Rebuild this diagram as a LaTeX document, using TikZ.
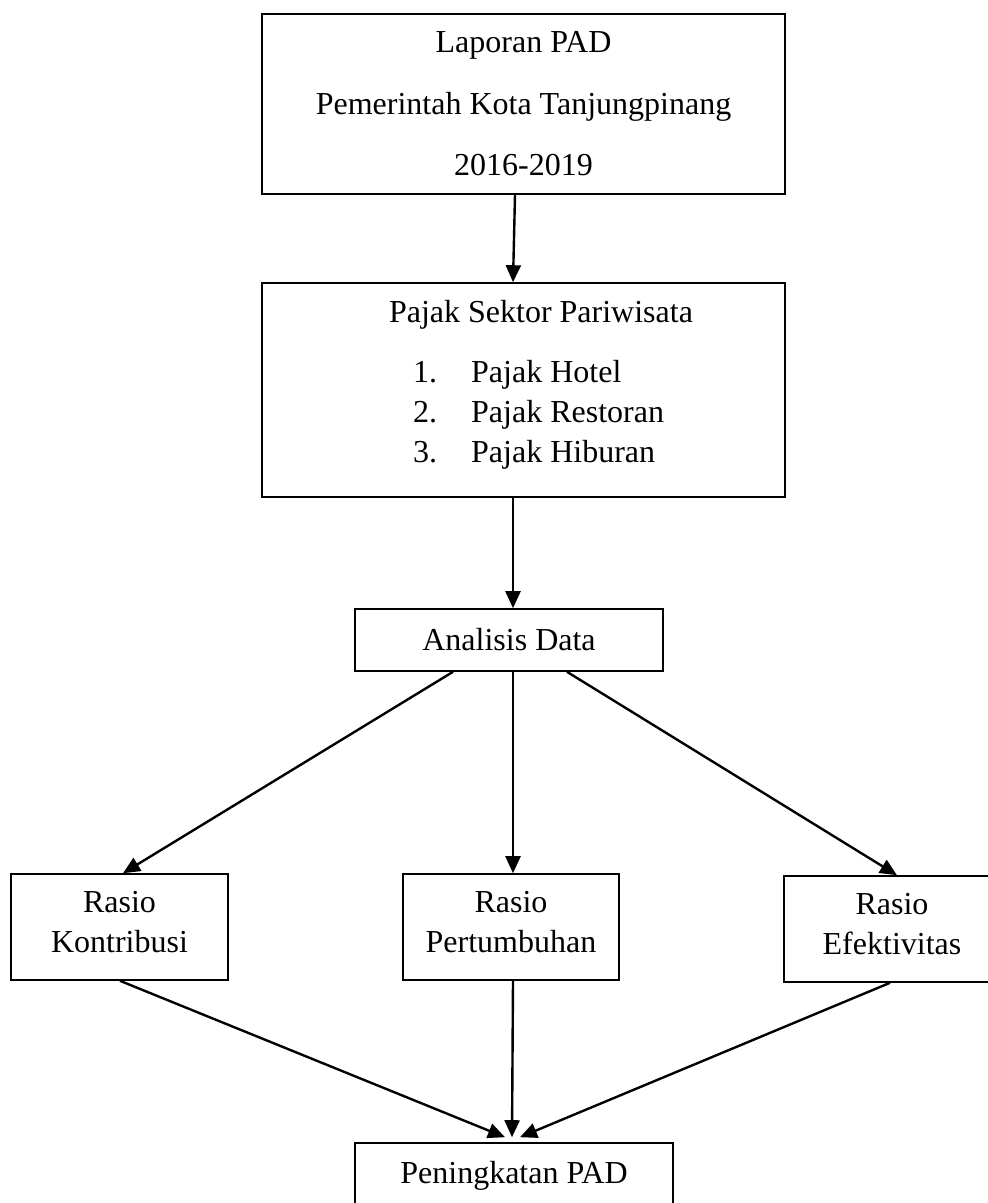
\documentclass[tikz,border=0pt]{standalone}
\usepackage{fontspec}
\setmainfont{Liberation Serif}
\usetikzlibrary{positioning,arrows.meta}

\begin{document}
\begin{tikzpicture}[x=1pt,y=-1pt,
  kotak/.style={draw=black, line width=1.6pt, inner sep=0pt, align=center, font=\fontsize{32}{40}\selectfont},
  teks/.style={inner sep=0pt, font=\fontsize{32}{40}\selectfont},
  panah/.style={draw=black, line width=2.4pt, -{Triangle[length=17pt,width=15pt]}}]
\useasboundingbox (0,0) rectangle (988,1203);

\node[kotak, minimum width=523, minimum height=180, font=\fontsize{32}{61.5}\selectfont] (laporan) at (523.5,104) {Laporan PAD\\Pemerintah Kota Tanjungpinang\\2016-2019};

\node[kotak, minimum width=523, minimum height=214] (pajak) at (523.5,390) {};
\node[teks, anchor=base] (judul) at (541,322) {Pajak Sektor Pariwisata};
\foreach \nomor/\jenis [count=\i from 0] in {1/Hotel,2/Restoran,3/Hiburan}{
  \node[teks, anchor=base west] (nomor\nomor) at (413,382+40*\i) {\nomor.};
  \node[teks, anchor=base west] (jenis\nomor) at (471,382+40*\i) {Pajak \jenis};
}

\node[kotak, minimum width=308, minimum height=62] (analisis) at (509,640) {Analisis Data};

\node[kotak, minimum width=217, minimum height=106, text depth=10pt] (kontribusi) at (119.5,927) {Rasio\\Kontribusi};
\node[kotak, minimum width=216, minimum height=106, text depth=10pt] (pertumbuhan) at (511,927) {Rasio\\Pertumbuhan};
\node[kotak, minimum width=216, minimum height=106, text depth=10pt] (efektivitas) at (892,929) {Rasio\\Efektivitas};

\node[kotak, minimum width=318, minimum height=65] (peningkatan) at (514,1175.5) {Peningkatan PAD};

\draw[panah] ([xshift=-8.5pt]laporan.south) -- ([xshift=-10.5pt]pajak.north);
\draw[panah] ([xshift=-10.5pt]pajak.south) -- ([xshift=4pt]analisis.north);
\draw[panah] ([xshift=-56pt]analisis.south) -- ([xshift=3.5pt]kontribusi.north);
\draw[panah] ([xshift=4pt]analisis.south) -- ([xshift=2pt]pertumbuhan.north);
\draw[panah] ([xshift=58pt]analisis.south) -- ([xshift=5pt]efektivitas.north);
\draw[panah] ([xshift=0.5pt]kontribusi.south) -- ([xshift=-9pt,yshift=5pt]peningkatan.north);
\draw[panah] ([xshift=2pt]pertumbuhan.south) -- ([xshift=-2pt,yshift=5pt]peningkatan.north);
\draw[panah] ([xshift=-2pt]efektivitas.south) -- ([xshift=6pt,yshift=5pt]peningkatan.north);
\end{tikzpicture}
\end{document}
